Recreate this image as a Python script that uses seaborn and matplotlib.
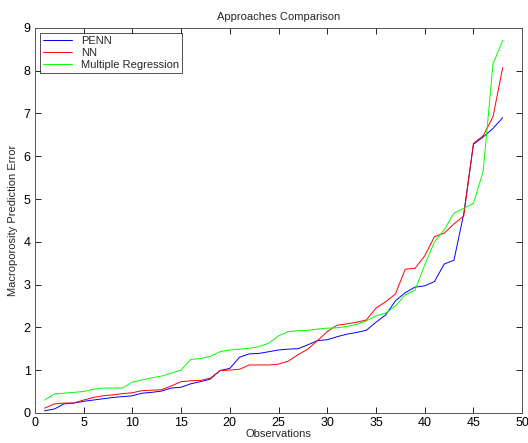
import matplotlib
matplotlib.use('Agg')
import matplotlib.pyplot as plt
import pandas as pd
import seaborn as sns

observations = list(range(1, 49))
penn = [0.05, 0.09, 0.21, 0.23, 0.27, 0.30, 0.33, 0.36, 0.38, 0.40,
        0.46, 0.48, 0.51, 0.58, 0.60, 0.68, 0.73, 0.79, 0.99, 1.04,
        1.30, 1.38, 1.39, 1.43, 1.47, 1.49, 1.50, 1.59, 1.69, 1.71,
        1.78, 1.84, 1.88, 1.93, 2.12, 2.29, 2.62, 2.81, 2.94, 2.97,
        3.07, 3.48, 3.57, 4.65, 6.28, 6.45, 6.65, 6.90]
nn = [0.11, 0.21, 0.23, 0.23, 0.30, 0.36, 0.40, 0.42, 0.45, 0.47,
      0.52, 0.53, 0.54, 0.63, 0.73, 0.75, 0.76, 0.81, 0.99, 1.00,
      1.02, 1.12, 1.12, 1.12, 1.14, 1.21, 1.36, 1.49, 1.69, 1.90,
      2.05, 2.08, 2.12, 2.17, 2.45, 2.60, 2.78, 3.36, 3.38, 3.67,
      4.12, 4.20, 4.42, 4.60, 6.30, 6.48, 6.92, 8.07]
mreg = [0.30, 0.44, 0.46, 0.48, 0.50, 0.55, 0.58, 0.58, 0.58, 0.72,
        0.77, 0.82, 0.86, 0.93, 1.00, 1.25, 1.27, 1.32, 1.43, 1.47,
        1.49, 1.51, 1.55, 1.63, 1.80, 1.90, 1.92, 1.93, 1.96, 1.98,
        1.99, 2.02, 2.07, 2.15, 2.27, 2.33, 2.50, 2.76, 2.87, 3.46,
        4.00, 4.28, 4.67, 4.78, 4.90, 5.65, 8.15, 8.71]
methods = ['PENN', 'NN', 'Multiple Regression']
colors = ['#0000ff', '#ff0000', '#00ff00']

df = pd.DataFrame({'Observations': observations * 3,
                   'Error': penn + nn + mreg,
                   'Method': [m for m in methods for _ in observations]})

sns.set_theme(style='ticks')
plt.rcParams['font.family'] = ['Liberation Sans', 'DejaVu Sans']

fig = plt.figure(figsize=(5.28, 4.43), dpi=100)
ax = fig.add_axes([0.066, 0.068, 0.923, 0.869])
sns.lineplot(data=df, x='Observations', y='Error', hue='Method',
             hue_order=methods, palette=colors, linewidth=0.7, ax=ax)

ax.set_xlim(0, 50)
ax.set_ylim(0, 9)
ax.set_xticks(range(0, 51, 5))
ax.set_yticks(range(0, 10))
ax.tick_params(direction='in', length=4, width=0.6, top=True, right=True,
               labelsize=9, pad=3, colors='black')
for s in ax.spines.values():
    s.set_visible(True)
    s.set_linewidth(0.7)
    s.set_color('#555555')

ax.set_title('Approaches Comparison', fontsize=8, pad=6)
ax.set_xlabel('Observations', fontsize=8, labelpad=0)
ax.set_ylabel('Macroporosity Prediction Error', fontsize=8, labelpad=4)

leg = ax.legend(loc='upper left', fontsize=8, frameon=True, fancybox=False,
                borderpad=0.3, handlelength=2.6, handletextpad=0.8,
                labelspacing=0.15, borderaxespad=0.45)
leg.get_frame().set_edgecolor('black')
leg.get_frame().set_linewidth(0.6)

fig.savefig('out.png', dpi=100)
